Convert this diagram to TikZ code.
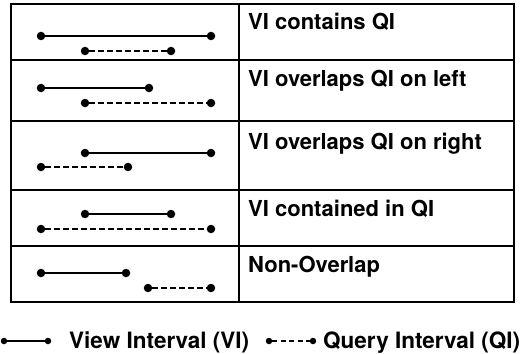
\documentclass[tikz,border=0pt]{standalone}
\usepackage{fontspec}
\setmainfont{TeX Gyre Heros}
\usetikzlibrary{positioning}

\begin{document}
\begin{tikzpicture}[x=1pt, y=-1pt]
\tikzstyle{pt}=[circle, fill=black, inner sep=0pt, minimum size=8.5pt]
\tikzstyle{lpt}=[circle, fill=black, inner sep=0pt, minimum size=6.5pt]
\tikzstyle{vi}=[-, line width=2.2pt]
\tikzstyle{qi}=[-, line width=2pt, dash pattern=on 5.5pt off 3.5pt]
\tikzstyle{lqi}=[-, line width=1.8pt, dash pattern=on 5pt off 3.5pt]
\tikzstyle{case}=[anchor=base west, inner sep=0pt, font=\fontsize{22}{26}\selectfont\bfseries]
\tikzstyle{key}=[anchor=base west, inner sep=0pt, font=\fontsize{22.5}{27}\selectfont\bfseries]
\useasboundingbox (0,0) rectangle (529,353);
% table
\draw[line width=2pt] (11,4) rectangle (514,302);
\draw[line width=2pt] (239,4) -- (239,302);
\foreach \y in {60,121,190,246}
  \draw[line width=2pt] (11,\y) -- (514,\y);
% labels
\node[case] (t1) at (248,30) {VI contains QI};
\node[case] (t2) at (248,86) {VI overlaps QI on left};
\node[case] (t3) at (248,149) {VI overlaps QI on right};
\node[case] (t4) at (248,216) {VI contained in QI};
\node[case] (t5) at (248,272) {Non-Overlap};
% contains
\node[pt] (v1a) at (41,36) {};
\node[pt] (v1b) at (211,36) {};
\node[pt] (q1a) at (85,51) {};
\node[pt] (q1b) at (171,51) {};
% overlaps left
\node[pt] (v2a) at (41,88) {};
\node[pt] (v2b) at (149,88) {};
\node[pt] (q2a) at (85,103) {};
\node[pt] (q2b) at (211,103) {};
% overlaps right
\node[pt] (v3a) at (85,153) {};
\node[pt] (v3b) at (211,153) {};
\node[pt] (q3a) at (41,167) {};
\node[pt] (q3b) at (128,167) {};
% contained in
\node[pt] (v4a) at (85,214) {};
\node[pt] (v4b) at (171,214) {};
\node[pt] (q4a) at (41,229) {};
\node[pt] (q4b) at (211,229) {};
% non-overlap
\node[pt] (v5a) at (41,273) {};
\node[pt] (v5b) at (126,273) {};
\node[pt] (q5a) at (148,288) {};
\node[pt] (q5b) at (211,288) {};
\path (v1a) edge [vi] (v1b);
\path (q1a) edge [qi] (q1b);
\path (v2a) edge [vi] (v2b);
\path (q2a) edge [qi] (q2b);
\path (v3a) edge [vi] (v3b);
\path (q3a) edge [qi] (q3b);
\path (v4a) edge [vi] (v4b);
\path (q4a) edge [qi] (q4b);
\path (v5a) edge [vi] (v5b);
\path (q5a) edge [qi] (q5b);
% legend
\node[lpt] (lva) at (4,341) {};
\node[lpt] (lvb) at (48,341) {};
\node[key] (lvt) at (69,348) {View Interval (VI)};
\node[lpt] (lqa) at (269,341) {};
\node[lpt] (lqb) at (313,341) {};
\node[key] (lqt) at (323,348) {Query Interval (QI)};
\path (lva) edge [vi] (lvb);
\path (lqa) edge [lqi] (lqb);
\end{tikzpicture}
\end{document}
